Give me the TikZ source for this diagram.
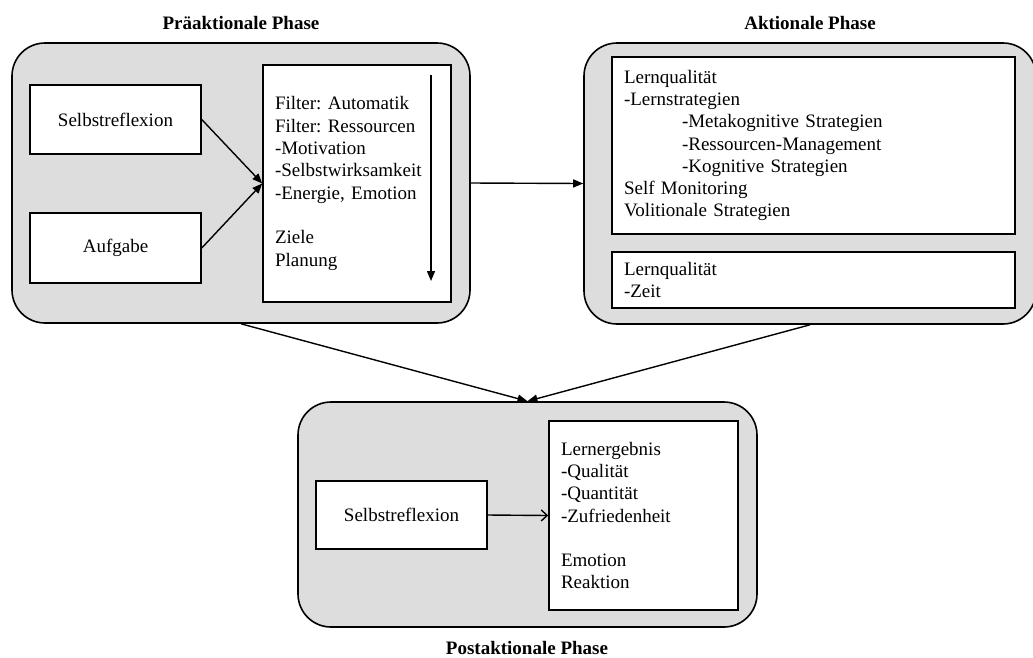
\documentclass[tikz,border=0pt]{standalone}
\usepackage{fontspec}
\setmainfont{Liberation Serif}
\usetikzlibrary{arrows.meta}
\definecolor{phasegray}{RGB}{221,221,221}
\frenchspacing

\begin{document}
\begin{tikzpicture}[x=1pt, y=-1pt,
	font=\fontsize{19}{22.3}\selectfont,
	phase/.style={draw, fill=phasegray, line width=1.6pt, rounded corners=33pt, inner sep=0pt},
	plainbox/.style={draw, fill=white, line width=1.5pt, inner sep=0pt},
	listbox/.style={draw, fill=white, line width=1.5pt, align=left, inner xsep=12pt, inner ysep=0pt},
	phasetitle/.style={font=\fontsize{19}{22.3}\selectfont\bfseries},
	flow/.style={-{Triangle[length=10pt,width=8pt]}, line width=1.4pt},
	openflow/.style={-{Straight Barb[length=6pt,width=11pt]}, line width=1.4pt}]
	\useasboundingbox (0, 0) rectangle (1033, 657);
	\node [phasetitle] (pretitle) at (241, 23) {Präaktionale Phase};
	\node [phasetitle] (acttitle) at (810, 23) {Aktionale Phase};
	\node [phasetitle] (posttitle) at (527, 648) {Postaktionale Phase};
	\node [phase, minimum width=458pt, minimum height=280pt] (pre) at (241, 183) {};
	\node [phase, minimum width=452pt, minimum height=281pt] (act) at (810, 183.5) {};
	\node [phase, minimum width=459pt, minimum height=225pt] (post) at (527.5, 514.5) {};
	\node [plainbox, minimum width=171pt, minimum height=69pt] (preself) at (115.5, 119.5) {Selbstreflexion};
	\node [plainbox, minimum width=171pt, minimum height=70pt] (task) at (115.5, 248) {Aufgabe};
	\node [listbox, text width=164pt, minimum height=237pt] (filter) at (357, 183.5) {Filter: Automatik\\Filter: Ressourcen\\-Motivation\\-Selbstwirksamkeit\\-Energie, Emotion\\[22.3pt]Ziele\\Planung};
	\node [listbox, text width=379pt, minimum height=177pt] (quality) at (813.5, 145.5) {Lernqualität\\-Lernstrategien\\\hspace*{58pt}-Metakognitive Strategien\\\hspace*{58pt}-Ressourcen-Management\\\hspace*{58pt}-Kognitive Strategien\\Self Monitoring\\Volitionale Strategien};
	\node [listbox, text width=379pt, minimum height=56pt] (time) at (813.5, 280) {Lernqualität\\-Zeit};
	\node [plainbox, minimum width=171pt, minimum height=68pt] (postself) at (401.5, 515) {Selbstreflexion};
	\node [listbox, text width=165pt, minimum height=189pt] (result) at (643.5, 515.5) {Lernergebnis\\-Qualität\\-Quantität\\-Zufriedenheit\\[22.3pt]Emotion\\Reaktion};
	\coordinate (filtertop) at (431, 75);
	\coordinate (filterend) at (431, 281);
	\draw [flow] (filtertop) -- (filterend);
	\draw [flow] (preself.east) -- (filter.west);
	\draw [flow] (task.east) -- (filter.west);
	\draw [flow] (pre.east) -- (act.west);
	\draw [flow] (pre.south) -- (post.north);
	\draw [flow] (act.south) -- (post.north);
	\draw [openflow] (postself.east) -- (result.west);
\end{tikzpicture}
\end{document}
